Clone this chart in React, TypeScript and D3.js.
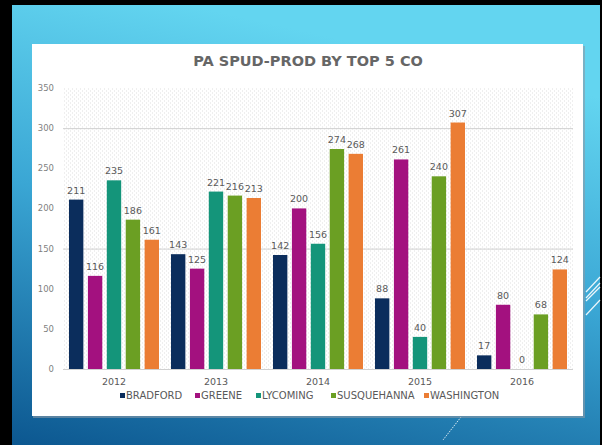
import React, { useEffect, useRef } from 'react';
import * as d3 from 'd3';

const years = ['2012', '2013', '2014', '2015', '2016'];
const counties = ['BRADFORD', 'GREENE', 'LYCOMING', 'SUSQUEHANNA', 'WASHINGTON'];
const colors = ['#0b2d5c', '#a3117f', '#14957a', '#6b9f23', '#eb7d34'];
const bradford = [211, 143, 142, 88, 17];
const greene = [116, 125, 200, 261, 80];
const lycoming = [235, 221, 156, 40, 0];
const susquehanna = [186, 216, 274, 240, 68];
const washington = [161, 213, 268, 307, 124];
const yTicks = [0, 50, 100, 150, 200, 250, 300, 350];
const gridTicks = [0, 150, 300];

const series = [bradford, greene, lycoming, susquehanna, washington];

export default function App() {
  const svgRef = useRef<SVGSVGElement>(null);
  const width = 602;
  const height = 445;

  useEffect(() => {
    if (!svgRef.current) return;
    const svg = d3.select(svgRef.current);
    svg.selectAll('*').remove();
    const font = '"DejaVu Sans", sans-serif';

    const defs = svg.append('defs');
    const grad = defs
      .append('linearGradient')
      .attr('id', 'bg')
      .attr('x1', '0.3')
      .attr('y1', '0')
      .attr('x2', '0')
      .attr('y2', '1');
    grad.append('stop').attr('offset', '0').attr('stop-color', '#63d5f0');
    grad.append('stop').attr('offset', '0.45').attr('stop-color', '#3aa6d4');
    grad.append('stop').attr('offset', '1').attr('stop-color', '#0c5790');

    const pat = defs
      .append('pattern')
      .attr('id', 'hatch')
      .attr('width', 4)
      .attr('height', 4)
      .attr('patternUnits', 'userSpaceOnUse');
    pat.append('rect').attr('width', 4).attr('height', 4).attr('fill', '#ffffff');
    pat.append('rect').attr('x', 0).attr('y', 0).attr('width', 1).attr('height', 2).attr('fill', '#efefef');
    pat.append('rect').attr('x', 2).attr('y', 2).attr('width', 1).attr('height', 2).attr('fill', '#efefef');

    // slide background
    svg.append('rect').attr('width', width).attr('height', height).attr('fill', '#000');
    svg.append('rect').attr('x', 12).attr('y', 5).attr('width', 588).attr('height', 440).attr('fill', 'url(#bg)');

    // decorative lines
    const deco = svg.append('g').attr('stroke', '#ffffff').attr('stroke-width', 1.2).attr('opacity', 0.9);
    [[586, 292, 600, 277], [586, 298, 600, 283], [586, 301, 600, 287], [586, 315, 600, 300]].forEach(([a, b, c, d]) =>
      deco.append('line').attr('x1', a).attr('y1', b).attr('x2', c).attr('y2', d)
    );
    svg
      .append('line')
      .attr('x1', 461).attr('y1', 417).attr('x2', 443).attr('y2', 440)
      .attr('stroke', '#ffffff').attr('stroke-width', 0.8).attr('stroke-dasharray', '1.5,1');

    // chart panel
    svg.append('rect').attr('x', 33).attr('y', 46).attr('width', 552).attr('height', 372).attr('fill', '#8a9aa6').attr('opacity', 0.6);
    svg.append('rect').attr('x', 32).attr('y', 44).attr('width', 551).attr('height', 372).attr('fill', '#ffffff');

    svg
      .append('text')
      .attr('x', 308)
      .attr('y', 66)
      .attr('text-anchor', 'middle')
      .style('font-family', font)
      .style('font-size', '14.5px')
      .style('font-weight', '600')
      .style('fill', '#666666')
      .text('PA SPUD-PROD BY TOP 5 CO');

    const left = 63, right = 573, top = 88, bottom = 369;
    const y = d3.scaleLinear().domain([0, 350]).range([bottom, top]);
    const x0 = d3.scaleBand().domain(years).range([left, right]).paddingInner(0.1176).paddingOuter(0.0588);
    const x1 = d3.scaleBand().domain(counties).range([0, x0.bandwidth()]).paddingInner(0.24);

    svg.append('rect').attr('x', left).attr('y', top).attr('width', right - left).attr('height', bottom - top).attr('fill', 'url(#hatch)');

    svg
      .append('g')
      .selectAll('line')
      .data(gridTicks)
      .enter()
      .append('line')
      .attr('x1', left)
      .attr('x2', right)
      .attr('y1', (d) => y(d) + 0.5)
      .attr('y2', (d) => y(d) + 0.5)
      .attr('stroke', '#d0d0d0')
      .attr('stroke-width', 1);

    svg
      .append('g')
      .selectAll('text')
      .data(yTicks)
      .enter()
      .append('text')
      .attr('x', 54)
      .attr('y', (d) => y(d) + 3)
      .attr('text-anchor', 'end')
      .style('font-family', font)
      .style('font-size', '8.5px')
      .style('fill', '#7f7f7f')
      .text((d) => d);

    const groups = svg
      .append('g')
      .selectAll('g')
      .data(years)
      .enter()
      .append('g')
      .attr('transform', (d) => `translate(${x0(d)},0)`);

    groups.each(function (yr, i) {
      const g = d3.select(this);
      counties.forEach((c, j) => {
        const v = series[j][i];
        if (v > 0) {
          g.append('rect')
            .attr('x', x1(c)!)
            .attr('y', y(v))
            .attr('width', x1.bandwidth())
            .attr('height', bottom - y(v))
            .attr('fill', colors[j]);
        }
        g.append('text')
          .attr('x', x1(c)! + x1.bandwidth() / 2)
          .attr('y', y(v) - 6)
          .attr('text-anchor', 'middle')
          .style('font-family', font)
          .style('font-size', '9.5px')
          .style('fill', '#595959')
          .text(v);
      });
    });

    svg
      .append('g')
      .selectAll('text')
      .data(years)
      .enter()
      .append('text')
      .attr('x', (d) => x0(d)! + x0.bandwidth() / 2)
      .attr('y', 385)
      .attr('text-anchor', 'middle')
      .style('font-family', font)
      .style('font-size', '9.5px')
      .style('fill', '#595959')
      .text((d) => d);

    // Legend
    const legendX = [120, 195, 256, 331, 424];
    const legend = svg
      .append('g')
      .selectAll('g')
      .data(counties)
      .enter()
      .append('g')
      .attr('transform', (d, i) => `translate(${legendX[i]},399)`);
    legend.append('rect').attr('x', 0).attr('y', -6).attr('width', 5).attr('height', 5).attr('fill', (d, i) => colors[i]);
    legend
      .append('text')
      .attr('x', 6)
      .attr('y', 0)
      .style('font-family', font)
      .style('font-size', '10px')
      .style('fill', '#595959')
      .text((d) => d);
  }, []);

  return (
    <div style={{ position: 'absolute', left: 0, top: 0 }}>
      <svg ref={svgRef} width={width} height={height} style={{ display: 'block' }}></svg>
    </div>
  );
}
